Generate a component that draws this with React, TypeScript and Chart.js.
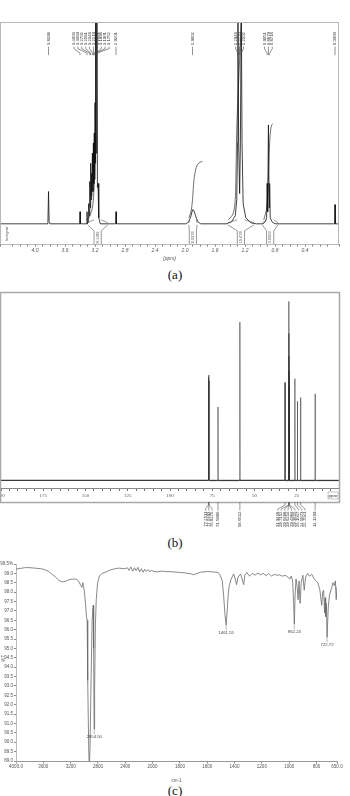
import React, { useEffect, useRef } from 'react';
import { Chart, registerables, LinearScale } from 'chart.js';

Chart.register(...registerables);

const FONT_SANS = '"Liberation Sans", "DejaVu Sans", sans-serif';
const FONT_SERIF = '"Liberation Serif", "DejaVu Serif", serif';

// ---------------- (a) 1H NMR ----------------
const H_X_MIN = -0.053;
const H_X_MAX = 4.467;
const H_TICK_LABELS = [4.4, 4.0, 3.6, 3.2, 2.8, 2.4, 2.0, 1.6, 1.2, 0.8, 0.4];
const H_PPM = [
  4.467, 3.84, 3.828, 3.82, 3.812, 3.80,
  3.405, 3.40, 3.395,
  3.312, 3.307, 3.302,
  3.29, 3.285, 3.278, 3.27, 3.264, 3.258, 3.253, 3.248, 3.242, 3.235, 3.228, 3.222, 3.216, 3.21, 3.205, 3.20, 3.195, 3.19, 3.183, 3.175, 3.168, 3.16, 3.15, 3.13,
  2.925, 2.92, 2.915,
  1.99, 1.95, 1.92, 1.90, 1.88, 1.86, 1.83, 1.79,
  1.45, 1.38, 1.33, 1.31, 1.30, 1.295, 1.285, 1.272, 1.262, 1.25, 1.24, 1.225, 1.19, 1.12, 1.05,
  0.96, 0.93, 0.912, 0.905, 0.898, 0.888, 0.878, 0.872, 0.864, 0.84, 0.80,
  0.02, 0.003, 0, -0.003, -0.053,
];
const H_INT = [
  0, 0, 1.2, 16, 1.2, 0,
  0, 6, 0,
  0, 6, 0,
  1, 10, 4, 21, 8, 30, 12, 25, 14, 35, 16, 40, 20, 45, 22, 60, 30, 110, 35, 110, 18, 20, 3, 0,
  0, 6, 0,
  0, 1, 4, 7, 6.5, 4, 1, 0,
  0, 1, 4, 12, 40, 110, 40, 15, 40, 110, 40, 10, 3, 0.5, 0,
  0, 1, 3, 20, 6, 49, 8, 20, 3, 1, 0,
  0, 0, 9.5, 0, 0,
];
const H_INTEGRAL_PPM = [
  3.31, 3.27, 3.23, 3.205, 3.19, 3.18, 3.0,
  1.95, 1.92, 1.90, 1.88, 1.85, 1.82, 1.77, 1.6,
  1.42, 1.36, 1.33, 1.31, 1.28, 1.25, 1.23, 1.1,
  0.95, 0.91, 0.89, 0.875, 0.86, 0.845, 0.83,
];
const H_INTEGRAL_VAL = [
  2, 4, 9, 25, 60, 120, null,
  3, 6, 12, 22, 28, 30, 31, null,
  2, 5, 12, 47, 75, 100, 120, null,
  2, 8, 22, 38, 46, 49, 49.5,
];
const H_LABEL_PPM = [3.8198, 3.4003, 3.3069, 3.2702, 3.2581, 3.2348, 3.2219, 3.2101, 3.1998, 3.1901, 3.1752, 2.9201, 1.9002, 1.2948, 1.2720, 1.2502, 0.9051, 0.8879, 0.8718, 0.0];
const H_REGION_FROM = [3.30, 1.95, 1.43, 0.97];
const H_REGION_TO = [3.03, 1.84, 1.08, 0.76];
const H_REGION_VALUE = [8.1189, 2.0276, 19.478, 3.0];

// ---------------- (b) 13C NMR ----------------
const C_X_MIN = 0;
const C_X_MAX = 200;
const C_TICK_LABELS = [200, 175, 150, 125, 100, 75, 50, 25];
const C_PPM = [77.2511, 77.0393, 76.8275, 71.5986, 58.6512, 31.9418, 29.7152, 29.6688, 29.6214, 29.4983, 29.3815, 26.1047, 24.5873, 22.7041, 14.1209];
const C_HEIGHT = [55, 56, 53, 39, 84, 52, 95, 78, 66, 58, 50, 54, 42, 44, 46];

// ---------------- (c) IR ----------------
const IR_MAX = 4000;
const IR_BREAK = 2000;
const IR_MIN = 650;
const IR_HI_COMPRESS = 2;
const IR_TICKS = [4000, 3600, 3200, 2800, 2400, 2000, 1800, 1600, 1400, 1200, 1000, 800, 650];
const IR_TICK_TEXT = ['4000.0', '3600', '3200', '2800', '2400', '2000', '1800', '1600', '1400', '1200', '1000', '800', '650.0'];
const IR_T_MIN = 89.0;
const IR_T_MAX = 99.5;
const IR_WN = [
  4000, 3930, 3860, 3780, 3700, 3640, 3580, 3520, 3470, 3420, 3380, 3340, 3300, 3260, 3210, 3150, 3110, 3080, 3050, 3035,
  3022, 3010, 2995, 2980, 2968, 2958, 2950, 2935, 2926, 2916, 2900, 2885, 2870, 2863, 2856, 2849, 2838, 2825, 2805, 2780,
  2740, 2680, 2620, 2560, 2500, 2440, 2400, 2370, 2345, 2320, 2290, 2265, 2240, 2215, 2190, 2165, 2140, 2115, 2090, 2065,
  2040, 2015, 2000, 1970, 1940, 1900, 1850, 1800, 1760, 1720, 1700, 1680, 1650, 1600, 1560, 1520, 1505, 1490, 1480, 1470,
  1461.55, 1455, 1447, 1440, 1425, 1407, 1395, 1385, 1375, 1356, 1345, 1333, 1325, 1310, 1290, 1270, 1250, 1230, 1210, 1190,
  1170, 1150, 1130, 1110, 1090, 1070, 1050, 1030, 1010, 995, 985, 975, 968, 962.24, 957, 950, 942, 935, 928, 920,
  912, 900, 890, 880, 865, 850, 835, 820, 805, 790, 775, 762, 755, 748, 741, 737, 733, 728, 722.72, 714,
  705, 690, 680, 670, 662, 656, 650,
];
const IR_T = [
  99.23, 99.27, 99.31, 99.30, 99.27, 99.25, 99.20, 99.10, 98.95, 98.80, 98.66, 98.56, 98.55, 98.60, 98.68, 98.70, 98.68, 98.55, 98.35, 98.25,
  98.50, 98.30, 97.90, 97.30, 96.70, 96.50, 93.30, 89.60, 88.50, 89.80, 93.50, 96.50, 97.30, 95.00, 90.70, 92.80, 96.20, 97.60, 98.50, 98.85,
  99.00, 99.08, 99.18, 99.24, 99.28, 99.26, 99.25, 99.30, 99.16, 99.34, 99.12, 99.30, 99.14, 99.32, 99.08, 99.25, 99.06, 99.22, 99.10, 99.20,
  99.08, 99.18, 99.12, 99.08, 99.12, 99.10, 99.08, 99.05, 99.02, 98.98, 98.93, 98.98, 99.06, 99.10, 99.08, 99.05, 98.90, 98.60, 97.80, 96.80,
  96.25, 96.90, 97.80, 98.30, 98.70, 98.97, 98.70, 98.40, 98.80, 98.97, 98.70, 98.40, 98.90, 99.05, 98.85, 99.00, 98.90, 99.02, 98.92, 99.00,
  98.88, 99.00, 98.85, 98.95, 98.90, 98.92, 98.85, 98.90, 98.80, 98.70, 98.85, 98.60, 97.50, 96.30, 97.80, 98.70, 98.30, 97.60, 98.60, 97.40,
  98.50, 98.90, 98.10, 98.80, 99.00, 98.85, 98.95, 98.75, 98.60, 98.50, 98.10, 97.30, 98.00, 98.10, 96.90, 97.70, 96.70, 97.40, 95.60, 97.20,
  97.85, 98.20, 98.50, 98.35, 98.60, 97.60, 98.30,
];
const IR_PEAK_WN = [2854.50, 1461.55, 962.24, 722.72];
const IR_PEAK_T = [90.70, 96.25, 96.30, 95.60];

// -------- custom piecewise wavenumber scale (2x expansion below 2000) --------
class IRBreakScale extends LinearScale {
  static id = 'irbreak';
  static defaults = LinearScale.defaults;
  buildTicks() {
    return IR_TICKS.map((v) => ({ value: v }));
  }
  irSpan() {
    const hi = (IR_MAX - IR_BREAK) / IR_HI_COMPRESS;
    return { hi, total: hi + (IR_BREAK - IR_MIN) };
  }
  getPixelForValue(v: number) {
    if (v === null || v === undefined) return NaN;
    const { hi, total } = this.irSpan();
    const d = v >= IR_BREAK ? (IR_MAX - v) / IR_HI_COMPRESS : hi + (IR_BREAK - v);
    return this.getPixelForDecimal(d / total);
  }
  getValueForPixel(p: number) {
    const { hi, total } = this.irSpan();
    const d = this.getDecimalForPixel(p) * total;
    return d <= hi ? IR_MAX - d * IR_HI_COMPRESS : IR_BREAK - (d - hi);
  }
}
Chart.register(IRBreakScale as any);

// ---------------- helpers ----------------
function vtext(ctx: CanvasRenderingContext2D, text: string, x: number, yTop: number, font: string, color: string, align: CanvasTextAlign = 'right') {
  ctx.save();
  ctx.translate(x, yTop);
  ctx.rotate(-Math.PI / 2);
  ctx.font = font;
  ctx.fillStyle = color;
  ctx.textAlign = align;
  ctx.textBaseline = 'middle';
  ctx.fillText(text, 0, 0);
  ctx.restore();
}

function spread(px: number[], gap: number): number[] {
  const idx = px.map((_, i) => i).sort((a, b) => px[a] - px[b]);
  const pos = idx.map((i) => px[i]);
  for (let it = 0; it < 400; it++) {
    let moved = false;
    for (let k = 1; k < pos.length; k++) {
      const d = pos[k] - pos[k - 1];
      if (d < gap - 1e-6) {
        const s = (gap - d) / 2;
        pos[k - 1] -= s;
        pos[k] += s;
        moved = true;
      }
    }
    if (!moved) break;
  }
  const out: number[] = new Array(px.length);
  idx.forEach((i, k) => (out[i] = pos[k]));
  return out;
}

const baseOptions = {
  animation: false as const,
  responsive: false,
  events: [] as any[],
  plugins: { legend: { display: false }, tooltip: { enabled: false }, title: { display: false } },
};

// ---------------- chart (a) ----------------
const pluginA = {
  id: 'nmrA',
  afterDatasetsDraw(chart: any) {
    const { ctx, chartArea: ca } = chart;
    const x = chart.scales.x;
    const y = chart.scales.y;
    ctx.save();
    ctx.strokeStyle = '#b8b8b8';
    ctx.lineWidth = 1;
    ctx.strokeRect(ca.left + 0.5, ca.top + 0.5, ca.right - ca.left - 1, ca.bottom - ca.top);

    // peak labels
    const font = `4.3px ${FONT_SANS}`;
    ctx.font = font;
    const px = H_LABEL_PPM.map((p) => x.getPixelForValue(p));
    const lx = spread(px, 3.9);
    const textTop = ca.top + 10;
    ctx.strokeStyle = '#444';
    ctx.lineWidth = 0.6;
    H_LABEL_PPM.forEach((p, i) => {
      const t = p.toFixed(4);
      vtext(ctx, t, lx[i], textTop, font, '#333');
      ctx.font = font;
      const w = ctx.measureText(t).width;
      ctx.beginPath();
      ctx.moveTo(lx[i], textTop + w + 1.5);
      ctx.lineTo(lx[i], textTop + w + 3.5);
      ctx.lineTo(px[i], textTop + w + 8);
      ctx.lineTo(px[i], textTop + w + 10);
      ctx.stroke();
    });

    // integral regions
    const base = y.getPixelForValue(0);
    const bottom = ca.bottom;
    ctx.strokeStyle = '#555';
    ctx.lineWidth = 0.6;
    H_REGION_FROM.forEach((f, i) => {
      const xf = x.getPixelForValue(f);
      const xt = x.getPixelForValue(H_REGION_TO[i]);
      const c = (xf + xt) / 2;
      const l = c - 3.6;
      const r = c + 3.6;
      ctx.beginPath();
      ctx.moveTo(xf, base + 1);
      ctx.lineTo(l, base + 7);
      ctx.lineTo(l, bottom);
      ctx.moveTo(xt, base + 1);
      ctx.lineTo(r, base + 7);
      ctx.lineTo(r, bottom);
      ctx.moveTo(xf, base - 1);
      ctx.lineTo(l, base - 4);
      ctx.moveTo(xt, base - 1);
      ctx.lineTo(r, base - 4);
      ctx.stroke();
      const txt = H_REGION_VALUE[i].toPrecision(5);
      vtext(ctx, txt, c, (base + 7 + bottom) / 2, `4px ${FONT_SANS}`, '#555', 'center');
    });
    vtext(ctx, 'Integral', ca.left + 7, (base + bottom) / 2, `italic 4.3px ${FONT_SANS}`, '#666', 'center');
    ctx.restore();
  },
};

function makeA(canvas: HTMLCanvasElement) {
  const spec = H_PPM.map((v, i) => ({ x: v, y: H_INT[i] }));
  const integ = H_INTEGRAL_PPM.map((v, i) => ({ x: v, y: H_INTEGRAL_VAL[i] }));
  return new Chart(canvas, {
    type: 'line',
    data: {
      datasets: [
        { data: spec, borderColor: '#111', borderWidth: 0.8, pointRadius: 0, tension: 0 },
        { data: integ, borderColor: '#333', borderWidth: 0.7, pointRadius: 0, tension: 0.3, spanGaps: false },
      ],
    },
    options: {
      ...baseOptions,
      layout: { padding: { top: 22, left: 0, right: 11, bottom: 0 } },
      scales: {
        x: {
          type: 'linear',
          reverse: true,
          min: H_X_MIN,
          max: H_X_MAX,
          afterFit: (s: any) => { s.height = 18; s.paddingLeft = 0; s.paddingRight = 0; },
          ticks: {
            stepSize: 0.1,
            autoSkip: false,
            maxRotation: 0,
            padding: 1,
            color: '#555',
            font: { size: 5, style: 'italic', family: FONT_SANS },
            callback: (v: any) => {
              const hit = H_TICK_LABELS.find((t) => Math.abs(t - v) < 1e-6);
              return hit === undefined ? '' : hit.toFixed(1);
            },
          },
          grid: { drawOnChartArea: false, tickLength: 2.5, color: '#777' },
          border: { color: '#999' },
          title: { display: true, text: '(ppm)', color: '#555', font: { size: 5, style: 'italic', family: FONT_SANS }, padding: { top: 0, bottom: 0 } },
        },
        y: { display: false, min: -10, max: 100 },
      },
    } as any,
    plugins: [pluginA],
  });
}

// ---------------- chart (b) ----------------
const pluginB = {
  id: 'nmrB',
  afterDatasetsDraw(chart: any) {
    const { ctx, chartArea: ca } = chart;
    const x = chart.scales.x;
    ctx.save();
    const frameBottom = ca.bottom + 14;
    ctx.strokeStyle = '#a8a8a8';
    ctx.lineWidth = 1.5;
    ctx.strokeRect(ca.left - 0.5, ca.top + 0.5, ca.right - ca.left + 1, frameBottom - ca.top);
    // ppm unit
    ctx.font = `5px ${FONT_SERIF}`;
    ctx.fillStyle = '#444';
    ctx.textAlign = 'center';
    ctx.textBaseline = 'middle';
    ctx.fillText('ppm', ca.right - 6, ca.bottom + 7.5);
    ctx.lineWidth = 0.5;
    ctx.strokeStyle = '#888';
    ctx.strokeRect(ca.right - 11, ca.bottom + 4, 10, 7);
    // labels
    const font = `4.3px ${FONT_SANS}`;
    const px = C_PPM.map((p) => x.getPixelForValue(p));
    const lx = spread(px, 3.4);
    ctx.strokeStyle = '#555';
    ctx.lineWidth = 0.6;
    C_PPM.forEach((p, i) => {
      ctx.beginPath();
      ctx.moveTo(px[i], frameBottom);
      ctx.lineTo(px[i], frameBottom + 3);
      ctx.lineTo(lx[i], frameBottom + 7);
      ctx.lineTo(lx[i], frameBottom + 8.5);
      ctx.stroke();
      vtext(ctx, p.toFixed(4), lx[i], frameBottom + 9.5, font, '#333');
    });
    ctx.restore();
  },
};

function makeB(canvas: HTMLCanvasElement) {
  const pts: { x: number; y: number }[] = [{ x: C_X_MAX, y: 0 }];
  C_PPM.forEach((p, i) => {
    pts.push({ x: p + 0.08, y: 0 });
    pts.push({ x: p, y: C_HEIGHT[i] });
    pts.push({ x: p - 0.08, y: 0 });
  });
  pts.push({ x: C_X_MIN, y: 0 });
  return new Chart(canvas, {
    type: 'line',
    data: {
      datasets: [
        {
          data: pts,
          borderColor: 'rgba(40,40,40,0.5)',
          borderWidth: 1,
          pointRadius: 0,
          tension: 0,
          segment: {
            borderColor: (c: any) => (c.p0.parsed.y === 0 && c.p1.parsed.y === 0 ? '#3a3a3a' : 'rgba(40,40,40,0.5)'),
            borderWidth: (c: any) => (c.p0.parsed.y === 0 && c.p1.parsed.y === 0 ? 1.3 : 1),
          },
        },
      ],
    },
    options: {
      ...baseOptions,
      layout: { padding: { top: 7, left: 1, right: 11, bottom: 0 } },
      scales: {
        x: {
          type: 'linear',
          reverse: true,
          min: C_X_MIN,
          max: C_X_MAX,
          afterFit: (s: any) => { s.height = 47; s.paddingLeft = 0; s.paddingRight = 0; },
          ticks: {
            stepSize: 5,
            autoSkip: false,
            maxRotation: 0,
            padding: 1.5,
            color: '#555',
            font: { size: 5, family: FONT_SERIF },
            callback: (v: any) => (C_TICK_LABELS.includes(Math.round(v)) && Math.abs(v - Math.round(v)) < 1e-6 ? String(Math.round(v)) : ''),
          },
          grid: { drawOnChartArea: false, tickLength: 3, color: '#777' },
          border: { color: '#888' },
        },
        y: { display: false, min: -4, max: 100 },
      },
    } as any,
    plugins: [pluginB],
  });
}

// ---------------- chart (c) ----------------
const pluginC = {
  id: 'irC',
  afterDatasetsDraw(chart: any) {
    const { ctx } = chart;
    const x = chart.scales.x;
    const y = chart.scales.y;
    ctx.save();
    ctx.font = `4.3px ${FONT_SANS}`;
    ctx.fillStyle = '#444';
    ctx.strokeStyle = '#777';
    ctx.lineWidth = 0.5;
    ctx.textAlign = 'center';
    ctx.textBaseline = 'middle';
    IR_PEAK_WN.forEach((w, i) => {
      const px = x.getPixelForValue(w);
      const py = y.getPixelForValue(IR_PEAK_T[i]);
      ctx.beginPath();
      ctx.moveTo(px, py);
      ctx.lineTo(px, py + 5);
      ctx.stroke();
      ctx.fillText(w.toFixed(2), px, py + 8);
    });
    vtext(ctx, '%T', 4, (chart.chartArea.top + chart.chartArea.bottom) / 2 - 4, `4.5px ${FONT_SANS}`, '#555', 'center');
    ctx.restore();
  },
};

function makeC(canvas: HTMLCanvasElement) {
  const pts = IR_WN.map((w, i) => ({ x: w, y: IR_T[i] }));
  return new Chart(canvas, {
    type: 'line',
    data: { datasets: [{ data: pts, borderColor: '#6a6a6a', borderWidth: 0.8, pointRadius: 0, tension: 0 }] },
    options: {
      ...baseOptions,
      layout: { padding: { top: 9, left: 0, right: 13, bottom: 0 } },
      scales: {
        x: {
          type: 'irbreak',
          min: IR_MIN,
          max: IR_MAX,
          afterFit: (s: any) => { s.height = 22; s.paddingLeft = 0; s.paddingRight = 0; },
          ticks: {
            autoSkip: false,
            maxRotation: 0,
            padding: 1,
            color: '#555',
            font: { size: 4.5, family: FONT_SANS },
            callback: (v: any) => {
              const k = IR_TICKS.indexOf(v);
              return k >= 0 ? IR_TICK_TEXT[k] : '';
            },
          },
          grid: { drawOnChartArea: false, tickLength: 2.5, color: '#888' },
          border: { color: '#999' },
          title: { display: true, text: 'cm-1', color: '#555', font: { size: 4.5, family: FONT_SANS }, padding: { top: 0, bottom: 0 } },
        },
        y: {
          type: 'linear',
          min: IR_T_MIN,
          max: IR_T_MAX,
          afterFit: (s: any) => { s.width = 16; s.paddingTop = 0; s.paddingBottom = 0; },
          ticks: {
            stepSize: 0.5,
            autoSkip: false,
            padding: 1,
            color: '#555',
            font: { size: 4.5, family: FONT_SANS },
            callback: (v: any) => (Math.abs(v - IR_T_MAX) < 1e-6 ? v.toFixed(1) + '%' : Number(v).toFixed(1)),
          },
          grid: { drawOnChartArea: false, tickLength: 2, color: '#888' },
          border: { color: '#bbb' },
        },
      },
    } as any,
    plugins: [pluginC],
  });
}

export default function App() {
  const refA = useRef<HTMLCanvasElement>(null);
  const refB = useRef<HTMLCanvasElement>(null);
  const refC = useRef<HTMLCanvasElement>(null);

  useEffect(() => {
    document.body.style.margin = '0';
    const charts = [makeA(refA.current!), makeB(refB.current!), makeC(refC.current!)];
    return () => charts.forEach((c) => c.destroy());
  }, []);

  const cap: React.CSSProperties = {
    position: 'absolute', left: 0, width: 350, textAlign: 'center', fontFamily: FONT_SERIF, fontSize: 13, lineHeight: '16px', color: '#111',
  };

  return (
    <div style={{ position: 'relative', width: 350, height: 796, background: '#fff', overflow: 'hidden' }}>
      <canvas ref={refA} width={350} height={262} style={{ position: 'absolute', left: 0, top: 0 }} />
      <div style={{ ...cap, top: 267 }}>(a)</div>
      <canvas ref={refB} width={350} height={250} style={{ position: 'absolute', left: 0, top: 285 }} />
      <div style={{ ...cap, top: 535 }}>(b)</div>
      <canvas ref={refC} width={350} height={228} style={{ position: 'absolute', left: 0, top: 555 }} />
      <div style={{ ...cap, top: 783 }}>(c)</div>
    </div>
  );
}
